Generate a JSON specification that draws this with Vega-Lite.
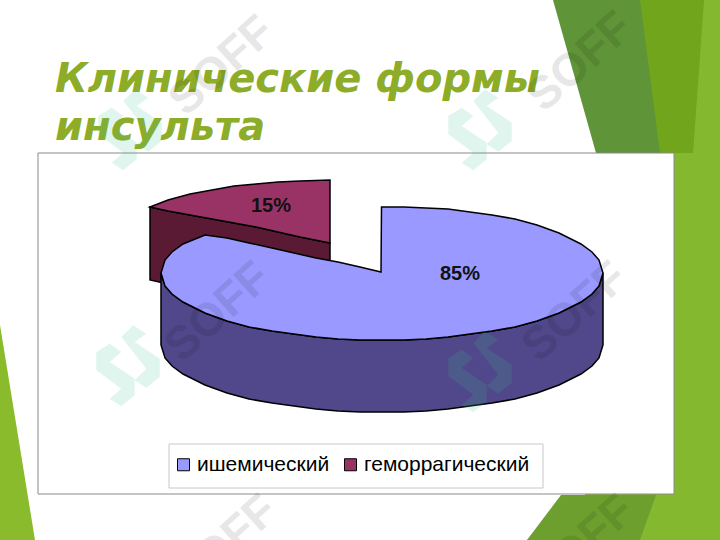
{
"$schema":"https://vega.github.io/schema/vega-lite/v6.json",
"width":720,"height":540,"padding":0,"autosize":{"type":"none"},"background":"#ffffff",
"config":{"view":{"stroke":null}},
"datasets":{
"bg":[
{"b":"light","y":0,"x":640,"x2":720},{"b":"light","y":495,"x":585,"x2":720},{"b":"light","y":540,"x":527,"x2":720},
{"b":"mid","y":0,"x":638,"x2":704},{"b":"mid","y":153,"x":655,"x2":693},
{"b":"dark","y":0,"x":553,"x2":640},{"b":"dark","y":153,"x":596,"x2":660},
{"b":"dark2","y":495,"x":561,"x2":656},{"b":"dark2","y":540,"x":527,"x2":640},
{"b":"left","y":325,"x":0,"x2":0},{"b":"left","y":540,"x":0,"x2":35}
],
"box":[{"x":38,"x2":674,"y":153,"y2":494}],
"legendbox":[{"x":169,"x2":543,"y":444,"y2":488}],
"red":[
{"form":"геморрагический","x":150,"y":207,"y2":207,"w":280},
{"form":"геморрагический","x":168,"y":200,"y2":211,"w":284},
{"form":"геморрагический","x":190,"y":194,"y2":215,"w":288},
{"form":"геморрагический","x":212,"y":190,"y2":219,"w":292},
{"form":"геморрагический","x":234,"y":186,"y2":223,"w":296},
{"form":"геморрагический","x":256,"y":184,"y2":227,"w":300},
{"form":"геморрагический","x":278,"y":182,"y2":232,"w":305},
{"form":"геморрагический","x":300,"y":181,"y2":237,"w":310},
{"form":"геморрагический","x":330,"y":180,"y2":243,"w":316}
],
"blue":[
{"form":"ишемический","x":161,"y":273,"y2":273,"w":345},
{"form":"ишемический","x":165,"y":260,"y2":286,"w":358},
{"form":"ишемический","x":172,"y":252,"y2":294,"w":366},
{"form":"ишемический","x":183,"y":244,"y2":302,"w":374},
{"form":"ишемический","x":205,"y":235,"y2":313,"w":385},
{"form":"ишемический","x":227,"y":238,"y2":321,"w":393},
{"form":"ишемический","x":249,"y":243,"y2":327,"w":399},
{"form":"ишемический","x":272,"y":248,"y2":331,"w":403},
{"form":"ишемический","x":294,"y":253,"y2":334,"w":406},
{"form":"ишемический","x":316,"y":258,"y2":337,"w":409},
{"form":"ишемический","x":338,"y":262,"y2":339,"w":411},
{"form":"ишемический","x":360,"y":267,"y2":340,"w":412},
{"form":"ишемический","x":381,"y":272,"y2":340,"w":412},
{"form":"ишемический","x":381.5,"y":207,"y2":340,"w":412},
{"form":"ишемический","x":404,"y":207,"y2":340,"w":412},
{"form":"ишемический","x":426,"y":208,"y2":339,"w":411},
{"form":"ишемический","x":448,"y":209,"y2":337,"w":409},
{"form":"ишемический","x":470,"y":212,"y2":334,"w":406},
{"form":"ишемический","x":492,"y":215,"y2":331,"w":403},
{"form":"ишемический","x":515,"y":219,"y2":327,"w":399},
{"form":"ишемический","x":537,"y":225,"y2":321,"w":393},
{"form":"ишемический","x":559,"y":233,"y2":313,"w":385},
{"form":"ишемический","x":581,"y":244,"y2":302,"w":374},
{"form":"ишемический","x":592,"y":252,"y2":294,"w":366},
{"form":"ишемический","x":599,"y":260,"y2":286,"w":358},
{"form":"ишемический","x":603,"y":273,"y2":273,"w":345}
],
"labels":[{"share":0.85,"x":460,"y":274},{"share":0.15,"x":271,"y":206}],
"heading":[{"t":"Клинические формы","x":55,"y":92},{"t":"инсульта","x":55,"y":140}],
"logo":[{"x":130,"y":130},{"x":480,"y":130},{"x":128,"y":366},{"x":480,"y":372}],
"mark":[{"t":"SOFF","x":222,"y":66},{"t":"SOFF","x":580,"y":62},{"t":"SOFF","x":218,"y":312},{"t":"SOFF","x":575,"y":312},{"t":"SOFF","x":225,"y":545},{"t":"SOFF","x":582,"y":545}]
},
"encoding":{
"x":{"field":"x","type":"quantitative","axis":null,"scale":{"domain":[0,720],"nice":false,"zero":false}},
"y":{"field":"y","type":"quantitative","axis":null,"scale":{"domain":[540,0],"nice":false,"zero":false}}
},
"layer":[
{"data":{"name":"bg"},"transform":[{"filter":"datum.b=='light'"}],"mark":{"type":"area","orient":"horizontal","color":"#84b82e"},"encoding":{"x2":{"field":"x2"}}},
{"data":{"name":"bg"},"transform":[{"filter":"datum.b=='mid'"}],"mark":{"type":"area","orient":"horizontal","color":"#70a51c"},"encoding":{"x2":{"field":"x2"}}},
{"data":{"name":"bg"},"transform":[{"filter":"datum.b=='dark'"}],"mark":{"type":"area","orient":"horizontal","color":"#5f9438"},"encoding":{"x2":{"field":"x2"}}},
{"data":{"name":"bg"},"transform":[{"filter":"datum.b=='dark2'"}],"mark":{"type":"area","orient":"horizontal","color":"#6d9f2e"},"encoding":{"x2":{"field":"x2"}}},
{"data":{"name":"bg"},"transform":[{"filter":"datum.b=='left'"}],"mark":{"type":"area","orient":"horizontal","color":"#8abb2c"},"encoding":{"x2":{"field":"x2"}}},
{"data":{"name":"box"},"mark":{"type":"rect","fill":"#ffffff","stroke":"#8a8a8a","strokeWidth":1},"encoding":{"x2":{"field":"x2"},"y2":{"field":"y2"}}},
{"data":{"name":"legendbox"},"mark":{"type":"rect","fill":"#ffffff","stroke":"#c8c8c8","strokeWidth":1},"encoding":{"x2":{"field":"x2"},"y2":{"field":"y2"}}},
{"data":{"name":"red"},"mark":{"type":"area","color":"#5a1a33","stroke":"#000000","strokeWidth":1.5},"encoding":{"y":{"field":"y2","type":"quantitative"},"y2":{"field":"w"}}},
{"data":{"name":"red"},"mark":{"type":"area","stroke":"#000000","strokeWidth":1.5},"encoding":{"y2":{"field":"y2"},"color":{"field":"form","type":"nominal","scale":{"domain":["ишемический","геморрагический"],"range":["#9999ff","#993366"]},"legend":{"orient":"none","legendX":173,"legendY":454,"direction":"horizontal","title":null,"symbolType":"square","symbolSize":144,"symbolStrokeColor":"#000000","symbolStrokeWidth":1,"labelFont":"Liberation Sans","labelFontSize":21,"labelColor":"#000000","labelOffset":3,"labelLimit":0,"columnPadding":10,"padding":0}}}},
{"data":{"name":"blue"},"mark":{"type":"area","color":"#50488a","stroke":"#000000","strokeWidth":1.5},"encoding":{"y":{"field":"y2","type":"quantitative"},"y2":{"field":"w"}}},
{"data":{"name":"blue"},"mark":{"type":"area","stroke":"#000000","strokeWidth":1.5},"encoding":{"y2":{"field":"y2"},"color":{"field":"form","type":"nominal"}}},
{"data":{"name":"labels"},"mark":{"type":"text","font":"Liberation Sans","fontWeight":"bold","fontSize":20,"color":"#111111","align":"center","baseline":"middle"},"encoding":{"text":{"field":"share","type":"quantitative","format":".0%"}}},
{"data":{"name":"heading"},"mark":{"type":"text","font":"DejaVu Sans","fontWeight":"bold","fontStyle":"italic","fontSize":40,"color":"#8dac27","align":"left","baseline":"alphabetic"},"encoding":{"text":{"field":"t"}}},
{"data":{"name":"logo"},"mark":{"type":"point","filled":true,"size":10000,"color":"#3fbf90","opacity":0.16,"shape":"M-.134,-.58L.1,-.814L.366,-.646L.134,-.48L.634,-.146L.634,.22L.366,.434L.134,.286L.366,.054ZM-.366,-.446L-.134,-.28L-.366,-.08L.134,.254L.134,.586L-.134,.806L-.366,.654L-.134,.454L-.634,.086L-.634,-.28Z"}},
{"data":{"name":"mark"},"mark":{"type":"text","font":"Liberation Sans","fontWeight":"bold","fontSize":46,"angle":-42,"color":"#000000","opacity":0.09,"align":"center","baseline":"middle"},"encoding":{"text":{"field":"t"}}}
]
}
